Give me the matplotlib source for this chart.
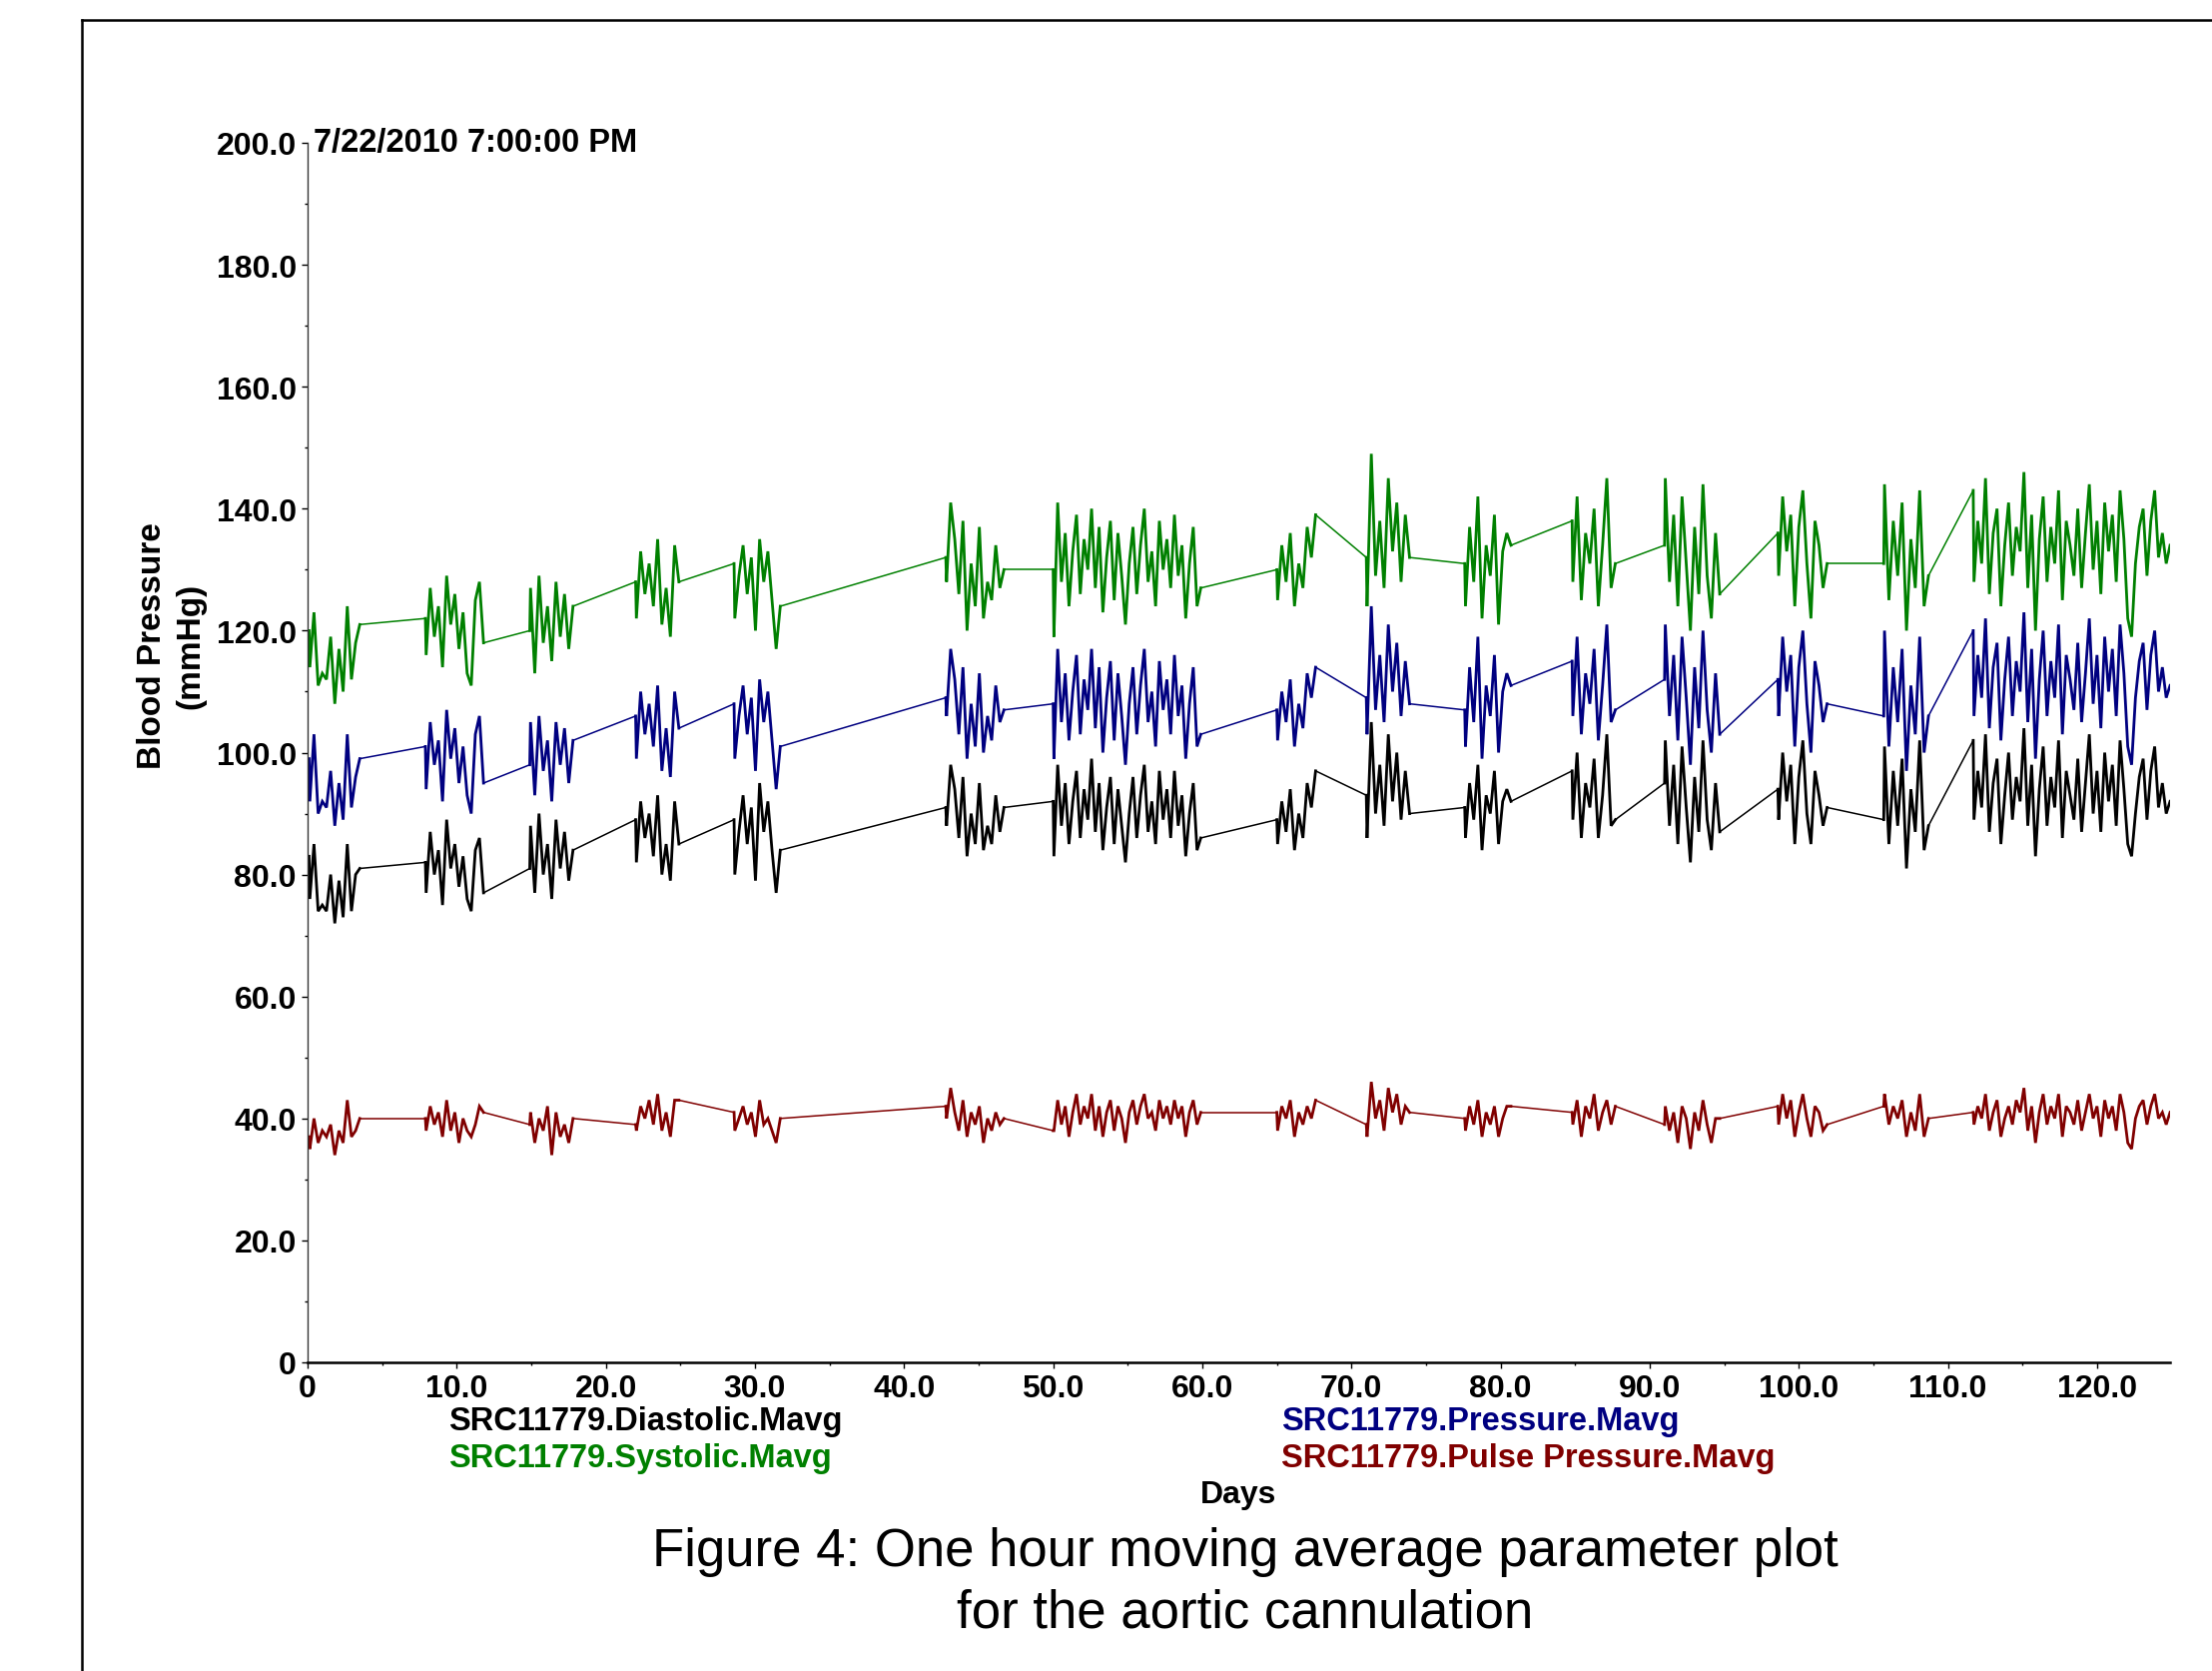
import numpy as np
import matplotlib.pyplot as plt
from matplotlib.lines import Line2D
from matplotlib.ticker import MultipleLocator, FuncFormatter

# recording periods (days) - the lines jump straight across the gaps between them
seg_days = [(0.1, 3.5), (7.9, 11.8), (14.9, 17.8), (22.0, 24.9), (28.6, 31.7),
            (42.8, 46.7), (50.0, 59.9), (65.0, 67.6), (71.0, 73.9), (77.6, 80.7),
            (84.8, 87.7), (91.0, 94.7), (98.6, 101.9), (105.7, 108.7), (111.7, 124.9)]

systolic = [
    [120, 114, 123, 111, 113, 112, 119, 108, 117, 110, 124, 112, 118, 121],
    [122, 116, 127, 119, 124, 114, 129, 121, 126, 117, 123, 113, 111, 125, 128, 118],
    [120, 127, 113, 129, 118, 124, 115, 128, 119, 126, 117, 124],
    [128, 122, 133, 126, 131, 124, 135, 121, 127, 119, 134, 128],
    [131, 122, 129, 134, 126, 132, 120, 135, 128, 133, 125, 117, 124],
    [132, 128, 141, 135, 126, 138, 120, 131, 124, 137, 122, 128, 125, 134, 127, 130],
    [130, 119, 141, 128, 136, 124, 133, 139, 126, 135, 130, 140, 127, 137, 123, 132, 138, 125, 136, 129, 121,
     131, 137, 126, 134, 140, 128, 133, 124, 138, 130, 135, 127, 139, 129, 134, 122, 131, 137, 124, 127],
    [130, 125, 134, 128, 136, 124, 131, 127, 137, 132, 139],
    [132, 124, 149, 129, 138, 127, 145, 133, 141, 128, 139, 132],
    [131, 124, 137, 128, 142, 122, 134, 129, 139, 121, 133, 136, 134],
    [138, 128, 142, 125, 136, 131, 140, 124, 134, 145, 127, 131],
    [134, 145, 128, 139, 124, 142, 131, 120, 137, 126, 144, 129, 122, 136, 126],
    [136, 129, 142, 133, 139, 124, 137, 143, 131, 122, 138, 134, 127, 131],
    [131, 144, 125, 138, 129, 141, 120, 135, 127, 143, 124, 129],
    [143, 128, 138, 131, 145, 126, 136, 140, 124, 134, 141, 129, 137, 133, 146, 127, 139, 120, 135, 142,
     128, 137, 131, 143, 125, 138, 134, 129, 140, 127, 136, 144, 130, 138, 126, 141, 133, 139, 128, 143,
     135, 122, 119, 131, 137, 140, 129, 138, 143, 132, 136, 131, 134],
]

pressure = [
    [99, 92, 103, 90, 92, 91, 97, 88, 95, 89, 103, 91, 96, 99],
    [101, 94, 105, 98, 102, 92, 107, 99, 104, 95, 101, 93, 90, 103, 106, 95],
    [98, 105, 93, 106, 97, 102, 92, 105, 98, 104, 95, 102],
    [106, 99, 110, 103, 108, 101, 111, 97, 104, 96, 110, 104],
    [108, 99, 106, 111, 103, 109, 97, 112, 105, 110, 102, 94, 101],
    [109, 106, 117, 112, 103, 114, 99, 108, 101, 113, 100, 106, 102, 111, 105, 107],
    [108, 99, 117, 105, 113, 102, 110, 116, 103, 112, 107, 117, 104, 114, 100, 109, 115, 102, 113, 106, 98,
     108, 114, 103, 111, 117, 105, 110, 101, 115, 107, 112, 103, 116, 106, 111, 99, 108, 114, 101, 103],
    [107, 102, 110, 105, 112, 101, 108, 104, 113, 109, 114],
    [109, 103, 124, 107, 116, 105, 121, 110, 118, 106, 115, 108],
    [107, 101, 114, 105, 119, 99, 111, 106, 116, 100, 110, 113, 111],
    [115, 106, 119, 103, 113, 108, 117, 102, 111, 121, 105, 107],
    [112, 121, 106, 116, 102, 119, 109, 98, 114, 104, 120, 107, 100, 113, 103],
    [112, 106, 119, 110, 116, 101, 114, 120, 108, 100, 115, 111, 105, 108],
    [106, 120, 101, 114, 105, 117, 97, 111, 103, 119, 100, 106],
    [120, 106, 116, 109, 122, 104, 114, 118, 102, 112, 119, 106, 115, 110, 123, 105, 117, 99, 112, 120,
     106, 115, 109, 121, 103, 116, 112, 107, 118, 105, 113, 122, 108, 116, 104, 119, 110, 117, 106, 121,
     113, 101, 98, 109, 115, 118, 107, 116, 120, 110, 114, 109, 111],
]

diastolic = [
    [83, 76, 85, 74, 75, 74, 80, 72, 79, 73, 85, 74, 80, 81],
    [82, 77, 87, 80, 84, 75, 89, 81, 85, 78, 83, 76, 74, 84, 86, 77],
    [81, 88, 77, 90, 80, 85, 76, 89, 81, 87, 79, 84],
    [89, 82, 92, 86, 90, 83, 93, 80, 85, 79, 92, 85],
    [89, 80, 87, 93, 85, 91, 79, 95, 87, 92, 84, 77, 84],
    [91, 88, 98, 94, 86, 96, 83, 90, 85, 95, 84, 88, 85, 93, 87, 91],
    [92, 83, 98, 88, 95, 85, 92, 97, 86, 94, 89, 99, 87, 95, 84, 91, 96, 85, 94, 88, 82,
     90, 96, 86, 93, 98, 87, 92, 85, 97, 89, 94, 86, 97, 88, 93, 83, 90, 95, 84, 86],
    [89, 85, 92, 87, 94, 84, 90, 86, 95, 91, 97],
    [93, 86, 105, 90, 98, 88, 103, 92, 100, 89, 97, 90],
    [91, 86, 95, 89, 98, 84, 93, 90, 97, 85, 92, 94, 92],
    [97, 89, 100, 86, 95, 91, 99, 86, 93, 103, 88, 89],
    [95, 102, 88, 98, 85, 101, 91, 82, 96, 87, 102, 89, 84, 95, 87],
    [94, 89, 100, 92, 98, 85, 96, 102, 90, 85, 97, 93, 88, 91],
    [89, 101, 85, 97, 88, 99, 81, 94, 87, 102, 84, 88],
    [102, 89, 97, 91, 103, 87, 95, 99, 85, 93, 100, 89, 96, 92, 104, 88, 98, 83, 94, 101,
     88, 96, 91, 102, 86, 97, 93, 89, 99, 87, 95, 103, 90, 97, 87, 100, 92, 98, 88, 102,
     94, 85, 83, 90, 96, 99, 89, 97, 101, 91, 95, 90, 92],
]

pulse = [
    [37, 35, 40, 36, 38, 37, 39, 34, 38, 36, 43, 37, 38, 40],
    [40, 38, 42, 39, 41, 37, 43, 38, 41, 36, 40, 38, 37, 39, 42, 41],
    [39, 41, 36, 40, 38, 42, 34, 41, 37, 39, 36, 40],
    [39, 38, 42, 40, 43, 39, 44, 38, 41, 37, 43, 43],
    [41, 38, 40, 42, 39, 41, 37, 43, 39, 40, 38, 36, 40],
    [42, 40, 45, 41, 38, 43, 37, 41, 39, 42, 36, 40, 38, 41, 39, 40],
    [38, 38, 43, 39, 42, 37, 41, 44, 39, 42, 40, 44, 38, 42, 37, 41, 43, 38, 42, 40, 36,
     41, 43, 39, 42, 44, 40, 41, 38, 43, 40, 42, 39, 43, 40, 42, 37, 41, 43, 39, 41],
    [41, 38, 42, 40, 43, 37, 41, 39, 42, 40, 43],
    [39, 37, 46, 40, 43, 38, 45, 41, 44, 39, 42, 41],
    [40, 38, 42, 39, 43, 37, 41, 39, 42, 37, 40, 42, 42],
    [41, 39, 43, 37, 42, 40, 44, 38, 41, 43, 39, 42],
    [39, 42, 38, 41, 36, 42, 40, 35, 41, 38, 43, 39, 36, 40, 40],
    [42, 39, 44, 40, 43, 37, 41, 44, 40, 37, 42, 41, 38, 39],
    [42, 44, 39, 42, 40, 43, 37, 41, 38, 44, 37, 40],
    [41, 39, 42, 40, 44, 38, 41, 43, 37, 40, 42, 39, 43, 41, 45, 38, 42, 36, 41, 44,
     39, 42, 40, 44, 37, 42, 41, 39, 43, 38, 41, 44, 40, 42, 37, 43, 40, 42, 38, 44,
     41, 36, 35, 40, 42, 43, 39, 42, 44, 40, 41, 39, 41],
]

series = [("SRC11779.Systolic.Mavg", systolic, "#008000"),
          ("SRC11779.Pressure.Mavg", pressure, "#000080"),
          ("SRC11779.Diastolic.Mavg", diastolic, "#000000"),
          ("SRC11779.Pulse Pressure.Mavg", pulse, "#800000")]

bold = dict(family=['Liberation Sans', 'DejaVu Sans'], weight='bold')
reg = dict(family=['Liberation Sans', 'DejaVu Sans'], weight='normal')

W, H = 2215, 1674
fig = plt.figure(figsize=(W / 100, H / 100), dpi=100)
ax = fig.add_axes([308 / W, 1 - 1365 / H, (2173 - 308) / W, (1365 - 144) / H])


def plotSeries(ax, segs, color):
    prev = None
    for (d0, d1), vals in zip(seg_days, segs):
        x = np.linspace(d0, d1, len(vals))
        # first point sits on the segment start, the rest of the values follow it
        x[1:] = np.linspace(d0 + 0.05, d1, len(vals) - 1)
        ax.plot(x, vals, color=color, lw=2.0, solid_joinstyle='miter')
        if prev is not None:
            # straight connector over the unrecorded period
            ax.plot([prev[0], x[0]], [prev[1], vals[0]], color=color, lw=1.1)
        prev = (x[-1], vals[-1])


for name, segs, color in series:
    plotSeries(ax, segs, color)

ax.set_xlim(0, 124.9)
ax.set_ylim(0, 200)
for s in ['top', 'right']:
    ax.spines[s].set_visible(False)
ax.spines['left'].set_color('#333333')
ax.spines['left'].set_linewidth(1.0)
ax.spines['bottom'].set_linewidth(1.8)

ax.xaxis.set_major_locator(MultipleLocator(10))
ax.xaxis.set_minor_locator(MultipleLocator(5))
ax.yaxis.set_major_locator(MultipleLocator(20))
ax.yaxis.set_minor_locator(MultipleLocator(10))
fmt = FuncFormatter(lambda v, p: "0" if v == 0 else "%.1f" % v)
ax.xaxis.set_major_formatter(fmt)
ax.yaxis.set_major_formatter(fmt)
ax.tick_params(which='major', length=4, width=1, pad=4)
ax.tick_params(which='minor', length=2.5, width=1)
for lab in ax.get_xticklabels() + ax.get_yticklabels():
    lab.set_fontproperties(dict(size=23, **bold))

ax.text(0.4, 200, "7/22/2010 7:00:00 PM", fontsize=23.5, ha='left', va='center', clip_on=False, **bold)

fig.text(172 / W, 1 - 647 / H, "Blood Pressure\n(mmHg)", rotation=90, ha='center', va='center',
         multialignment='center', fontsize=24, linespacing=1.3, **bold)

# legend texts under the axis
fig.text(449 / W, 1 - 1424 / H, series[2][0], color=series[2][2], fontsize=23.5, va='center', **bold)
fig.text(449 / W, 1 - 1461 / H, series[0][0], color=series[0][2], fontsize=23.5, va='center', **bold)
fig.text(1283 / W, 1 - 1424 / H, series[1][0], color=series[1][2], fontsize=23.5, va='center', **bold)
fig.text(1283 / W, 1 - 1461 / H, series[3][0], color=series[3][2], fontsize=23.5, va='center', **bold)
fig.text(1240 / W, 1 - 1497 / H, "Days", fontsize=23, ha='center', va='center', **bold)

fig.text(1247 / W, 1 - 1554 / H, "Figure 4: One hour moving average parameter plot",
         fontsize=38, ha='center', va='center', **reg)
fig.text(1247 / W, 1 - 1616 / H, "for the aortic cannulation",
         fontsize=38, ha='center', va='center', **reg)

# outer frame (left and top edges visible)
fig.add_artist(Line2D([82 / W, 82 / W], [0, 1 - 21 / H], color='black', lw=1.8))
fig.add_artist(Line2D([82 / W, 1], [1 - 21 / H, 1 - 21 / H], color='black', lw=1.8))

fig.savefig("out.png", dpi=100)
